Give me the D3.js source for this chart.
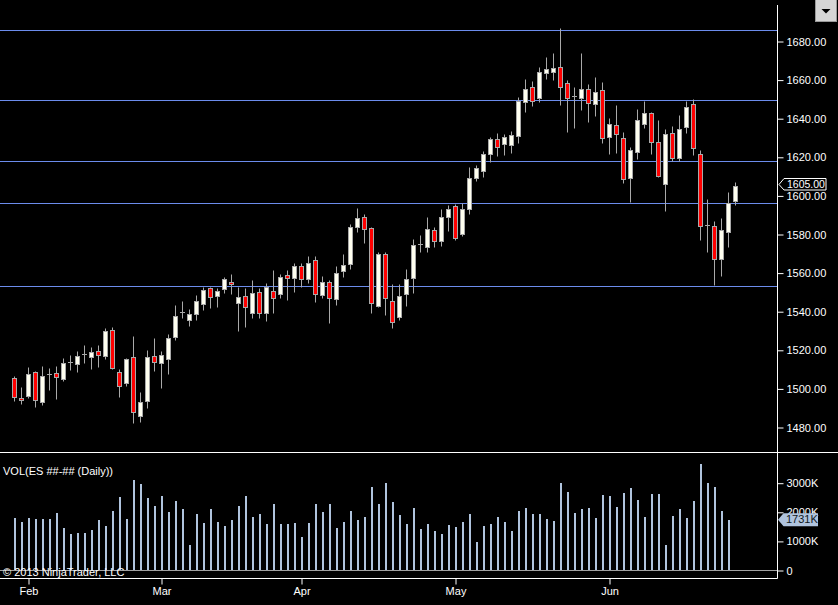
<!DOCTYPE html>
<html>
<head>
<meta charset="utf-8">
<script src="https://cdn.jsdelivr.net/npm/d3@7"></script>
<style>
html, body { margin: 0; padding: 0; background: #000; }
svg { display: block; }
text { font-family: "Liberation Sans", Arial, sans-serif; font-size: 11px; fill: #fff; }
</style>
</head>
<body>
<div class="js-chart"></div>
<script>
'use strict';

// trading days shown on the chart (2013)
const DAYS = [
	'01-30', '01-31',
	'02-01', '02-04', '02-05', '02-06', '02-07', '02-08', '02-11', '02-12', '02-13', '02-14', '02-15',
	'02-19', '02-20', '02-21', '02-22', '02-25', '02-26', '02-27', '02-28',
	'03-01', '03-04', '03-05', '03-06', '03-07', '03-08', '03-11', '03-12', '03-13', '03-14', '03-15',
	'03-18', '03-19', '03-20', '03-21', '03-22', '03-25', '03-26', '03-27', '03-28',
	'04-01', '04-02', '04-03', '04-04', '04-05', '04-08', '04-09', '04-10', '04-11', '04-12',
	'04-15', '04-16', '04-17', '04-18', '04-19', '04-22', '04-23', '04-24', '04-25', '04-26', '04-29', '04-30',
	'05-01', '05-02', '05-03', '05-06', '05-07', '05-08', '05-09', '05-10', '05-13', '05-14', '05-15', '05-16', '05-17',
	'05-20', '05-21', '05-22', '05-23', '05-24', '05-28', '05-29', '05-30', '05-31',
	'06-03', '06-04', '06-05', '06-06', '06-07', '06-10', '06-11', '06-12', '06-13', '06-14',
	'06-17', '06-18', '06-19', '06-20', '06-21', '06-24', '06-25', '06-26', '06-27'
];

const OPENS = [
	1505.2, 1494.9, 1496.2, 1508.3, 1492.8, 1507.6, 1508.0, 1505.0, 1513.8, 1512.8,
	1517.7, 1516.4, 1519.2, 1516.7, 1530.5, 1508.3, 1502.6, 1516.1, 1485.9, 1493.6,
	1516.6, 1513.0, 1515.1, 1526.8, 1539.6, 1535.3, 1538.4, 1543.7, 1551.9, 1548.0,
	1551.3, 1554.9, 1544.4, 1547.9, 1539.2, 1549.8, 1538.9, 1550.5, 1548.8, 1558.8,
	1557.0, 1563.4, 1556.5, 1566.5, 1548.4, 1555.0, 1546.2, 1561.0, 1564.3, 1583.8,
	1588.7, 1583.0, 1542.9, 1569.6, 1545.3, 1537.2, 1548.8, 1557.4, 1574.7, 1573.4,
	1582.1, 1576.5, 1589.0, 1594.5, 1579.8, 1592.8, 1608.9, 1612.8, 1621.3, 1629.1,
	1626.5, 1626.1, 1630.9, 1648.2, 1656.2, 1650.3, 1663.3, 1664.1, 1666.4, 1658.1,
	1651.5, 1650.6, 1655.0, 1647.2, 1654.6, 1630.1, 1636.5, 1629.6, 1608.9, 1622.3,
	1636.8, 1642.5, 1627.8, 1605.8, 1632.2, 1619.2, 1635.3, 1647.2, 1621.3, 1584.5,
	1584.1, 1566.9, 1580.9, 1597.3
];

const HIGHS = [
	1506.4, 1500.7, 1511.2, 1509.2, 1511.6, 1510.6, 1511.6, 1515.6, 1517.3, 1519.4,
	1522.5, 1521.3, 1522.5, 1531.5, 1532.0, 1509.9, 1515.6, 1527.2, 1498.0, 1519.9,
	1526.0, 1519.4, 1528.2, 1543.2, 1545.3, 1541.1, 1548.4, 1552.7, 1552.7, 1552.2,
	1557.9, 1559.3, 1552.7, 1551.9, 1556.2, 1551.9, 1554.8, 1561.3, 1559.3, 1561.3,
	1564.8, 1565.1, 1568.6, 1568.6, 1558.2, 1556.2, 1563.4, 1569.6, 1585.2, 1593.3,
	1590.4, 1583.8, 1570.8, 1570.8, 1554.1, 1554.1, 1561.9, 1577.3, 1579.5, 1588.7,
	1583.8, 1592.8, 1595.0, 1595.5, 1595.9, 1614.6, 1615.8, 1623.2, 1630.4, 1632.5,
	1631.8, 1633.5, 1651.1, 1660.2, 1659.3, 1666.4, 1671.6, 1673.6, 1686.6, 1659.8,
	1656.0, 1673.6, 1657.6, 1661.5, 1658.9, 1640.0, 1646.8, 1633.0, 1625.2, 1644.8,
	1649.1, 1643.4, 1639.1, 1634.4, 1636.0, 1641.7, 1649.1, 1649.8, 1623.5, 1598.1,
	1586.7, 1588.4, 1601.6, 1607.1
];

const LOWS = [
	1493.6, 1491.8, 1495.0, 1490.5, 1491.5, 1499.2, 1494.7, 1504.0, 1509.7, 1508.7,
	1513.3, 1510.0, 1511.0, 1515.0, 1510.0, 1495.4, 1501.2, 1481.9, 1482.7, 1490.0,
	1509.2, 1500.0, 1507.3, 1525.1, 1536.6, 1532.5, 1535.4, 1540.6, 1541.8, 1542.3,
	1549.3, 1548.9, 1529.9, 1531.7, 1536.3, 1536.3, 1535.0, 1538.9, 1546.7, 1545.8,
	1550.1, 1552.7, 1554.5, 1544.6, 1546.7, 1533.7, 1543.2, 1557.9, 1562.0, 1581.2,
	1575.5, 1539.2, 1542.0, 1538.0, 1531.1, 1535.4, 1542.7, 1549.3, 1570.8, 1570.8,
	1573.1, 1573.8, 1581.7, 1576.9, 1579.1, 1590.2, 1607.6, 1609.7, 1617.5, 1620.4,
	1620.9, 1621.8, 1627.0, 1643.4, 1646.5, 1648.6, 1660.2, 1659.8, 1646.8, 1633.0,
	1635.1, 1644.2, 1638.2, 1641.3, 1627.0, 1621.3, 1621.8, 1606.3, 1596.7, 1618.7,
	1635.1, 1621.5, 1609.4, 1592.1, 1618.0, 1618.0, 1632.5, 1620.9, 1576.9, 1570.8,
	1553.6, 1558.4, 1573.4, 1595.0
];

const CLOSES = [
	1495.4, 1493.8, 1507.5, 1493.8, 1506.3, 1507.6, 1505.8, 1513.0, 1513.8, 1516.8,
	1517.7, 1518.7, 1517.1, 1530.0, 1510.7, 1501.4, 1515.1, 1487.6, 1492.8, 1516.1,
	1513.5, 1517.1, 1525.9, 1537.5, 1539.6, 1538.5, 1545.3, 1551.0, 1547.2, 1550.5,
	1556.5, 1553.9, 1547.2, 1542.3, 1549.3, 1539.2, 1552.7, 1547.0, 1557.6, 1557.0,
	1563.4, 1556.5, 1564.8, 1548.8, 1555.0, 1546.7, 1559.6, 1563.9, 1583.5, 1588.1,
	1582.4, 1544.1, 1569.6, 1546.7, 1534.2, 1547.9, 1556.7, 1574.3, 1574.7, 1582.6,
	1576.5, 1588.7, 1592.8, 1577.8, 1592.8, 1608.9, 1614.0, 1621.5, 1629.1, 1624.9,
	1630.1, 1631.3, 1648.9, 1655.0, 1648.9, 1663.8, 1665.5, 1666.2, 1656.0, 1650.6,
	1651.5, 1655.0, 1647.7, 1653.7, 1629.6, 1636.8, 1631.7, 1608.3, 1623.5, 1639.1,
	1642.5, 1627.5, 1610.1, 1631.8, 1619.2, 1634.2, 1645.6, 1624.4, 1584.3, 1584.5,
	1566.9, 1582.1, 1595.9, 1605.0
];

// daily volume in thousands of contracts (last session has no bar yet)
const VOLUMES = [
	1787, 1660, 1787, 1753, 1753, 1753, 1959, 1443, 1237, 1271,
	1271, 1375, 1718, 1512, 2027, 2509, 1753, 3093, 2955, 2474,
	2199, 2543, 1993, 2371, 2096, 859, 1924, 1615, 2096, 1649,
	1512, 1718, 2199, 2543, 1821, 1924, 1581, 2268, 1581, 1581,
	1615, 1134, 1615, 2268, 1993, 2268, 1443, 1649, 2027, 1718,
	1821, 2852, 2268, 2990, 2337, 1890, 1581, 2131, 1409, 1581,
	1340, 1237, 1546, 1478, 1649, 1924, 962, 1512, 1581, 1821,
	1649, 1340, 2027, 2131, 1924, 1924, 1753, 1684, 2990, 2680,
	1959, 2096, 2131, 1787, 2577, 2543, 2165, 2646, 2818, 2405,
	1821, 2612, 2612, 859, 1856, 2096, 1787, 2371, 3643, 2990,
	2852, 2027, 1731
];

const PRICE_TICKS = [1480, 1500, 1520, 1540, 1560, 1580, 1600, 1620, 1640, 1660, 1680];
const VOLUME_TICKS = [0, 1000, 2000, 3000];
const MONTH_TICKS = ['02-01', '03-01', '04-01', '05-01', '06-03'];
const MONTH_LABELS = ['Feb', 'Mar', 'Apr', 'May', 'Jun'];

// horizontal lines drawn on the price panel
const LEVELS = [1685.7, 1649.4, 1617.8, 1596.1, 1553.1];

const svgWidth = 838;
const svgHeight = 605;
const axisX = 777.5;

function buildBars() {
	return DAYS.map(function(day, i) {
		return {
			day: day,
			open: OPENS[i],
			high: HIGHS[i],
			low: LOWS[i],
			close: CLOSES[i],
			volume: VOLUMES[i]
		};
	});
}

function styleAxis(g) {
	g.attr('font-family', null).attr('font-size', null);
	g.select('.domain').remove();
	g.selectAll('.tick line').attr('stroke', '#fff');
	g.selectAll('.tick text').attr('fill', '#fff');
}

function drawChart() {

	const bars = buildBars();
	const px = v => Math.round(v) + 0.5;

	const x = d3.scalePoint()
		.domain(DAYS)
		.range([14.5, 735.5]);

	const y = d3.scaleLinear()
		.domain([1480, 1680])
		.range([427, 41]);

	const yVol = d3.scaleLinear()
		.domain([0, 3000])
		.range([570, 482.7]);

	const svg = d3.select('.js-chart')
		.append('svg')
		.attr('width', svgWidth)
		.attr('height', svgHeight)
		.style('background', '#000');

	// drawn price levels
	svg.selectAll('line.level')
		.data(LEVELS)
		.enter()
		.append('line')
		.classed('level', true)
		.attr('x1', 0)
		.attr('x2', axisX)
		.attr('y1', d => px(y(d)))
		.attr('y2', d => px(y(d)))
		.attr('stroke', '#6c8cec')
		.attr('stroke-width', 1);

	// candles
	const candle = svg.selectAll('g.candle')
		.data(bars)
		.enter()
		.append('g')
		.classed('candle', true);

	candle.append('line')
		.attr('x1', d => x(d.day))
		.attr('x2', d => x(d.day))
		.attr('y1', d => px(y(d.high)))
		.attr('y2', d => px(y(d.low)))
		.attr('stroke', '#a9a9a9');

	candle.filter(d => Math.abs(d.open - d.close) >= 0.5)
		.append('rect')
		.attr('x', d => x(d.day) - 2)
		.attr('width', 4)
		.attr('y', d => px(y(Math.max(d.open, d.close))))
		.attr('height', d => Math.max(1, px(y(Math.min(d.open, d.close))) - px(y(Math.max(d.open, d.close)))))
		.attr('fill', d => d.close >= d.open ? '#fffff0' : '#ff0000')
		.attr('stroke', '#a9a9a9');

	candle.filter(d => Math.abs(d.open - d.close) < 0.5)
		.append('line')
		.attr('x1', d => x(d.day) - 2.5)
		.attr('x2', d => x(d.day) + 2.5)
		.attr('y1', d => px(y(d.close)))
		.attr('y2', d => px(y(d.close)))
		.attr('stroke', '#a9a9a9');

	// volume panel
	svg.append('line')
		.attr('x1', 0)
		.attr('x2', axisX)
		.attr('y1', px(yVol(0)))
		.attr('y2', px(yVol(0)))
		.attr('stroke', '#a0a0a0');

	svg.selectAll('rect.vol')
		.data(bars.filter(d => d.volume != undefined))
		.enter()
		.append('rect')
		.classed('vol', true)
		.attr('x', d => x(d.day) - 0.5)
		.attr('width', 2)
		.attr('y', d => Math.round(yVol(d.volume)))
		.attr('height', d => Math.round(yVol(0)) - Math.round(yVol(d.volume)))
		.attr('fill', '#b0c4de');

	// panel frame
	svg.append('line')
		.attr('x1', 0).attr('x2', svgWidth)
		.attr('y1', 452.5).attr('y2', 452.5)
		.attr('stroke', '#fff');
	svg.append('line')
		.attr('x1', 0).attr('x2', axisX)
		.attr('y1', 578.5).attr('y2', 578.5)
		.attr('stroke', '#fff');
	svg.append('line')
		.attr('x1', axisX).attr('x2', axisX)
		.attr('y1', 5).attr('y2', 578.5)
		.attr('stroke', '#fff');

	// axes
	svg.append('g')
		.attr('transform', `translate(${axisX},0.5)`)
		.call(d3.axisRight(y)
			.tickValues(PRICE_TICKS)
			.tickSize(6)
			.tickPadding(3)
			.tickFormat(d3.format('.2f')))
		.call(styleAxis);

	svg.append('g')
		.attr('transform', `translate(${axisX},0.5)`)
		.call(d3.axisRight(yVol)
			.tickValues(VOLUME_TICKS)
			.tickSize(6)
			.tickPadding(3)
			.tickFormat(d => d === 0 ? '0' : d + 'K'))
		.call(styleAxis);

	svg.append('g')
		.attr('transform', 'translate(0,578.5)')
		.call(d3.axisBottom(x)
			.tickValues(MONTH_TICKS)
			.tickSize(6)
			.tickPadding(3)
			.tickFormat((d, i) => MONTH_LABELS[i]))
		.call(styleAxis);

	// last price marker
	const last = bars[bars.length - 1];
	const lastY = Math.floor(y(last.close)) - 0.5;
	svg.append('path')
		.attr('d', `M779,${lastY} L784,${lastY - 6} H826 V${lastY + 5.5} H784 Z`)
		.attr('fill', '#000')
		.attr('stroke', '#fff');
	svg.append('text')
		.attr('x', 787)
		.attr('y', lastY)
		.attr('dy', '0.33em')
		.style('font-size', '10.5px')
		.text(d3.format('.2f')(last.close));

	// last volume marker
	const lastVol = VOLUMES[VOLUMES.length - 1];
	const volY = yVol(lastVol);
	svg.append('path')
		.attr('d', `M778,${volY} L783.5,${volY - 6.5} H818 V${volY + 6.5} H783.5 Z`)
		.attr('fill', '#b0c4de');
	svg.append('text')
		.attr('x', 786)
		.attr('y', volY)
		.attr('dy', '0.35em')
		.style('fill', '#101820')
		.text(lastVol + 'K');

	// panel labels
	svg.append('text')
		.attr('x', 3)
		.attr('y', 475)
		.text('VOL(ES ##-## (Daily))');

	svg.append('text')
		.attr('x', 3)
		.attr('y', 576)
		.text('\u00a9 2013 NinjaTrader, LLC');

	// dropdown button in the corner
	svg.append('rect')
		.attr('x', 815.5)
		.attr('y', -0.5)
		.attr('width', 21)
		.attr('height', 22)
		.attr('fill', '#d6d6d6')
		.attr('stroke', '#9a9a9a');
	svg.append('path')
		.attr('d', 'M821.5,9 H830.5 L826,13.5 Z')
		.attr('fill', '#000');
}

drawChart();
</script>
</body>
</html>
